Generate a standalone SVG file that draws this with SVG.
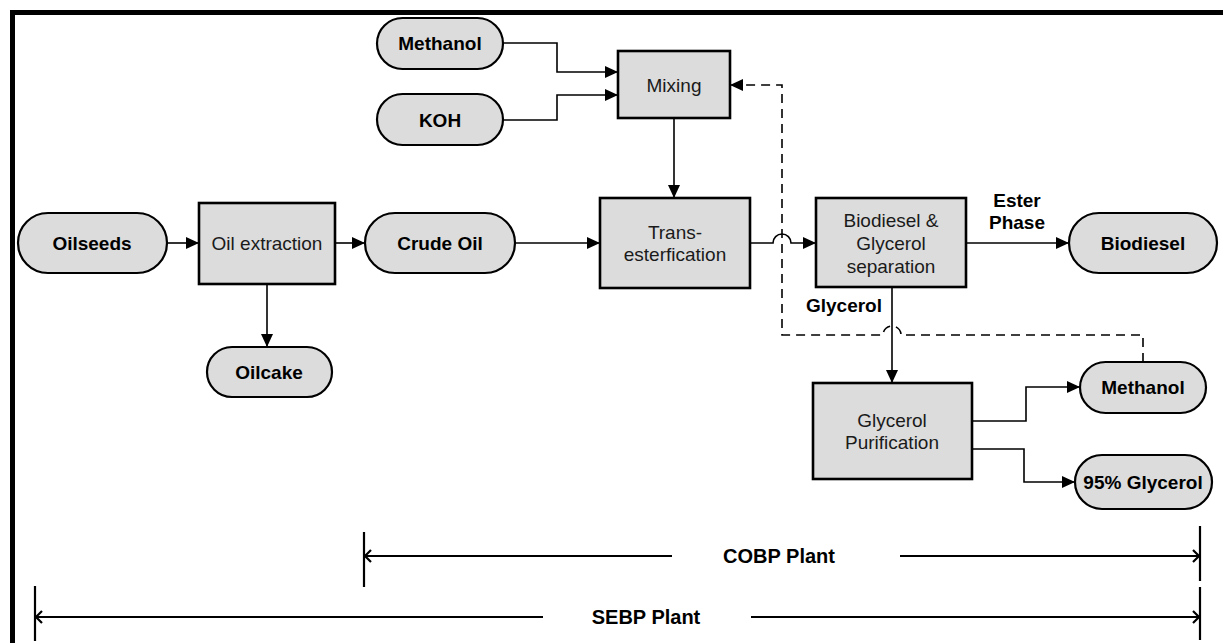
<svg xmlns="http://www.w3.org/2000/svg" width="1223" height="643" viewBox="0 0 1223 643">
<defs>
<style>
.pill{fill:#dcdcdc;stroke:#000;stroke-width:2.2}
.box{fill:#dcdcdc;stroke:#000;stroke-width:2.6}
.bt{font-family:"Liberation Sans",Arial,sans-serif;font-size:19px;font-weight:bold;text-anchor:middle;fill:#000}
.rt{font-family:"Liberation Sans",Arial,sans-serif;font-size:19px;text-anchor:middle;fill:#1a1a1a}
.dim{font-family:"Liberation Sans",Arial,sans-serif;font-size:20px;font-weight:bold;text-anchor:middle;fill:#000}
.ln{fill:none;stroke:#000;stroke-width:1.6}
.dash{fill:none;stroke:#000;stroke-width:1.6;stroke-dasharray:9 6}
.dl{fill:none;stroke:#000;stroke-width:2.2}
</style>
<marker id="ah" markerUnits="userSpaceOnUse" markerWidth="14" markerHeight="12" refX="13" refY="6" orient="auto">
<path d="M0,0 L13,6 L0,12 z" fill="#000"/>
</marker>
</defs>
<rect width="1223" height="643" fill="#fff"/>
<path d="M10,12.5 H1223 M12.5,10 V643" fill="none" stroke="#000" stroke-width="5"/>

<g id="methanol-in"><rect class="pill" x="377" y="18" width="126" height="51" rx="25.5"/><text class="bt" x="440" y="50">Methanol</text></g>
<g id="koh"><rect class="pill" x="377" y="94" width="126" height="51" rx="25.5"/><text class="bt" x="440" y="127">KOH</text></g>
<g id="mixing"><rect class="box" x="618" y="51" width="112" height="67"/><text class="rt" x="674" y="92">Mixing</text></g>
<g id="oilseeds"><rect class="pill" x="18" y="213" width="149" height="60" rx="30"/><text class="bt" x="92" y="250">Oilseeds</text></g>
<g id="oil-extraction"><rect class="box" x="199" y="203" width="136" height="81"/><text class="rt" x="267" y="250">Oil extraction</text></g>
<g id="crude-oil"><rect class="pill" x="365" y="213" width="150" height="60" rx="30"/><text class="bt" x="440" y="250">Crude Oil</text></g>
<g id="oilcake"><rect class="pill" x="207" y="347" width="125" height="50" rx="25"/><text class="bt" x="269" y="379">Oilcake</text></g>
<g id="trans"><rect class="box" x="600" y="198" width="150" height="90"/><text class="rt" x="675" y="239">Trans-</text><text class="rt" x="675" y="261">esterfication</text></g>
<g id="separation"><rect class="box" x="816" y="198" width="150" height="89"/><text class="rt" x="891" y="227">Biodiesel &amp;</text><text class="rt" x="891" y="250">Glycerol</text><text class="rt" x="891" y="273">separation</text></g>
<g id="biodiesel"><rect class="pill" x="1069" y="213" width="148" height="60" rx="30"/><text class="bt" x="1143" y="250">Biodiesel</text></g>
<g id="glycerol-purification"><rect class="box" x="813" y="383" width="159" height="96"/><text class="rt" x="892" y="427">Glycerol</text><text class="rt" x="892" y="449">Purification</text></g>
<g id="methanol-out"><rect class="pill" x="1080" y="362" width="126" height="51" rx="25.5"/><text class="bt" x="1143" y="394">Methanol</text></g>
<g id="glycerol-95"><rect class="pill" x="1075" y="455" width="137" height="54" rx="27"/><text class="bt" x="1143" y="489">95% Glycerol</text></g>

<g id="connectors">
<path class="ln" d="M503,43 H557 V72 H618" marker-end="url(#ah)"/>
<path class="ln" d="M503,120 H557 V95 H618" marker-end="url(#ah)"/>
<path class="ln" d="M674,118 V198" marker-end="url(#ah)"/>
<path class="ln" d="M167,243 H199" marker-end="url(#ah)"/>
<path class="ln" d="M335,243 H365" marker-end="url(#ah)"/>
<path class="ln" d="M267,284 V347" marker-end="url(#ah)"/>
<path class="ln" d="M515,243 H600" marker-end="url(#ah)"/>
<path class="ln" d="M750,243 H773 A9,9 0 0 1 791,243 H816" marker-end="url(#ah)"/>
<path class="ln" d="M966,243 H1069" marker-end="url(#ah)"/>
<path class="ln" d="M892,287 V383" marker-end="url(#ah)"/>
<path class="ln" d="M972,421 H1026 V387 H1080" marker-end="url(#ah)"/>
<path class="ln" d="M972,449 H1024 V482 H1075" marker-end="url(#ah)"/>
<path class="dash" d="M1143,362 V335 H901 A9,9 0 0 0 883,335 H782 V85 H730" marker-end="url(#ah)"/>
<text class="bt" x="1017" y="207">Ester</text>
<text class="bt" x="1017" y="229">Phase</text>
<text class="bt" x="844" y="312">Glycerol</text>
</g>

<g id="cobp-plant">
<path class="dl" d="M364,532 V587 M1200,526 V581 M364,556 H672 M900,556 H1200 M371,550 L365,556 L371,562 M1193,550 L1199,556 L1193,562"/>
<text class="dim" x="779" y="563">COBP Plant</text>
</g>
<g id="sebp-plant">
<path class="dl" d="M35,586 V641 M1200,587 V640 M35,617 H543 M751,617 H1200 M42,611 L36,617 L42,623 M1193,611 L1199,617 L1193,623"/>
<text class="dim" x="646" y="624">SEBP Plant</text>
</g>
</svg>
